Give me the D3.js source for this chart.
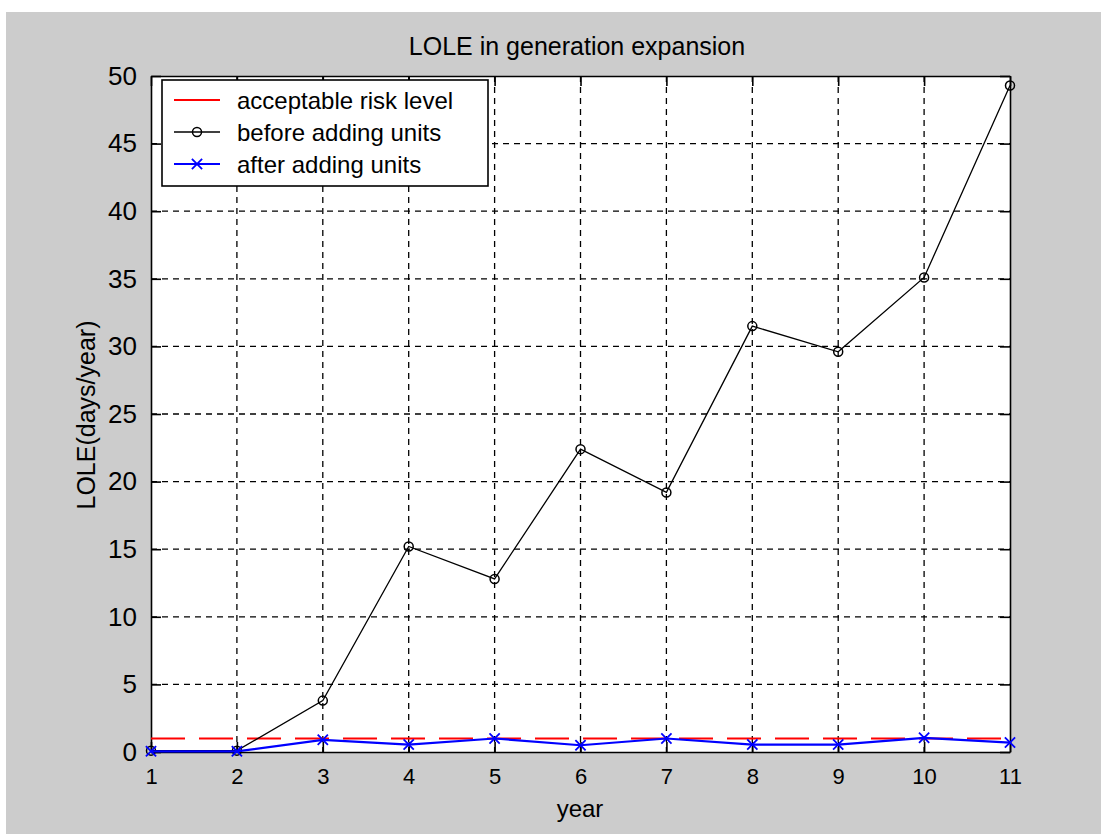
<!DOCTYPE html>
<meta charset="utf-8">
<style>
  body { margin: 0; background: #fff; }
  text { font-family: "Liberation Sans", Arial, sans-serif; fill: #000; }
</style>
<body>
<script src="https://d3js.org/d3.v7.min.js"></script>
<script>
  // values
  var years = [1, 2, 3, 4, 5, 6, 7, 8, 9, 10, 11];
  var beforeUnits = [0.1, 0.1, 3.8, 15.2, 12.8, 22.4, 19.2, 31.5, 29.6, 35.1, 49.3];
  var afterUnits = [0.05, 0.05, 0.9, 0.55, 1.0, 0.5, 1.0, 0.55, 0.55, 1.05, 0.7];
  var riskLevel = 1;
  var yTicks = [0, 5, 10, 15, 20, 25, 30, 35, 40, 45, 50];
  var legendLabels = ["acceptable risk level", "before adding units", "after adding units"];

  var svg = d3.select("body").append("svg")
          .attr("width", 1101)
          .attr("height", 834);

  // grey figure background
  svg.append("rect")
          .attr("x", 6).attr("y", 12)
          .attr("width", 1095).attr("height", 822)
          .style("fill", "#cccccc");

  var margin = {top: 76, right: 91, bottom: 82, left: 151},
          width = 1101 - margin.left - margin.right,
          height = 834 - margin.top - margin.bottom,
          g = svg.append("g").attr("transform", "translate(" + margin.left + "," + margin.top + ")");

  var xScale = d3.scaleLinear().domain([1, 11]).range([0, width]);
  var yScale = d3.scaleLinear().domain([0, 50]).range([height, 0]);

  g.append("rect")
          .attr("width", width).attr("height", height)
          .style("fill", "#fff");

  // dashed grid
  g.append("g").selectAll("line")
          .data(years.slice(1, -1))
          .enter().append("line")
          .attr("x1", function(d) { return xScale(d); })
          .attr("x2", function(d) { return xScale(d); })
          .attr("y1", 0).attr("y2", height)
          .style("stroke", "#000").style("stroke-width", 1.3)
          .style("stroke-dasharray", "6,5");
  g.append("g").selectAll("line")
          .data(yTicks.slice(1, -1))
          .enter().append("line")
          .attr("y1", function(d) { return yScale(d); })
          .attr("y2", function(d) { return yScale(d); })
          .attr("x1", 0).attr("x2", width)
          .style("stroke", "#000").style("stroke-width", 1.3)
          .style("stroke-dasharray", "6,5");

  // axes with inward ticks, mirrored on top/right
  var xAxis = g.append("g")
          .attr("transform", "translate(0," + height + ")")
          .call(d3.axisBottom(xScale).tickValues(years).tickSizeInner(-10).tickSizeOuter(0).tickPadding(16));
  var yAxis = g.append("g")
          .call(d3.axisLeft(yScale).tickValues(yTicks).tickSizeInner(-10).tickSizeOuter(0).tickPadding(14));
  g.append("g")
          .call(d3.axisTop(xScale).tickValues(years).tickSizeInner(-10).tickSizeOuter(0).tickFormat(""));
  g.append("g")
          .attr("transform", "translate(" + width + ",0)")
          .call(d3.axisRight(yScale).tickValues(yTicks).tickSizeInner(-10).tickSizeOuter(0).tickFormat(""));

  g.selectAll(".domain").style("stroke", "#000").style("stroke-width", 1.6);
  g.selectAll(".tick line").style("stroke", "#000").style("stroke-width", 1.6);
  xAxis.selectAll("text").style("font-size", "22px").style("font-family", "Liberation Sans, Arial");
  yAxis.selectAll("text").style("font-size", "26px").style("font-family", "Liberation Sans, Arial");

  // lines
  var line = d3.line()
          .x(function(d, i) { return xScale(years[i]); })
          .y(function(d) { return yScale(d); });

  g.append("line")
          .attr("x1", xScale(1)).attr("x2", xScale(11))
          .attr("y1", yScale(riskLevel)).attr("y2", yScale(riskLevel))
          .style("stroke", "#ff0000").style("stroke-width", 2.2)
          .style("stroke-dasharray", "34,14");

  g.append("path")
          .datum(beforeUnits)
          .attr("d", line)
          .style("fill", "none").style("stroke", "#000").style("stroke-width", 1.3);
  g.selectAll(".before")
          .data(beforeUnits)
          .enter().append("circle")
          .attr("class", "before")
          .attr("cx", function(d, i) { return xScale(years[i]); })
          .attr("cy", function(d) { return yScale(d); })
          .attr("r", 4.5)
          .style("fill", "none").style("stroke", "#000").style("stroke-width", 1.5);

  g.append("path")
          .datum(afterUnits)
          .attr("d", line)
          .style("fill", "none").style("stroke", "#0000ff").style("stroke-width", 2.2);
  var cross = d3.symbol().type(d3.symbolX).size(70);
  g.selectAll(".after")
          .data(afterUnits)
          .enter().append("path")
          .attr("class", "after")
          .attr("transform", function(d, i) { return "translate(" + xScale(years[i]) + "," + yScale(d) + ")"; })
          .attr("d", cross)
          .style("fill", "none").style("stroke", "#0000ff").style("stroke-width", 1.8);

  // title and labels
  svg.append("text")
          .attr("x", 577).attr("y", 55)
          .attr("text-anchor", "middle")
          .style("font-size", "25px")
          .text("LOLE in generation expansion");
  svg.append("text")
          .attr("x", 580).attr("y", 817)
          .attr("text-anchor", "middle")
          .style("font-size", "24px")
          .text("year");
  svg.append("text")
          .attr("transform", "translate(95,415) rotate(-90)")
          .attr("text-anchor", "middle")
          .style("font-size", "25px")
          .text("LOLE(days/year)");

  // legend
  var legend = svg.append("g").attr("transform", "translate(162,80)");
  legend.append("rect")
          .attr("width", 326).attr("height", 106)
          .style("fill", "#fff").style("stroke", "#000").style("stroke-width", 1.6);
  var colors = ["#ff0000", "#000", "#0000ff"];
  var rows = legend.selectAll(".row")
          .data(legendLabels)
          .enter().append("g")
          .attr("class", "row")
          .attr("transform", function(d, i) { return "translate(0," + (20 + i * 32) + ")"; });
  rows.append("line")
          .attr("x1", 12).attr("x2", 58)
          .style("stroke", function(d, i) { return colors[i]; })
          .style("stroke-width", function(d, i) { return i === 1 ? 1.3 : 2.2; });
  rows.append("text")
          .attr("x", 75).attr("y", 9)
          .style("font-size", "24px")
          .text(function(d) { return d; });
  legend.append("circle")
          .attr("cx", 35).attr("cy", 52).attr("r", 4.5)
          .style("fill", "none").style("stroke", "#000").style("stroke-width", 1.5);
  legend.append("path")
          .attr("transform", "translate(35,84)")
          .attr("d", cross)
          .style("fill", "none").style("stroke", "#0000ff").style("stroke-width", 1.8);
</script>
</body>
</html>
